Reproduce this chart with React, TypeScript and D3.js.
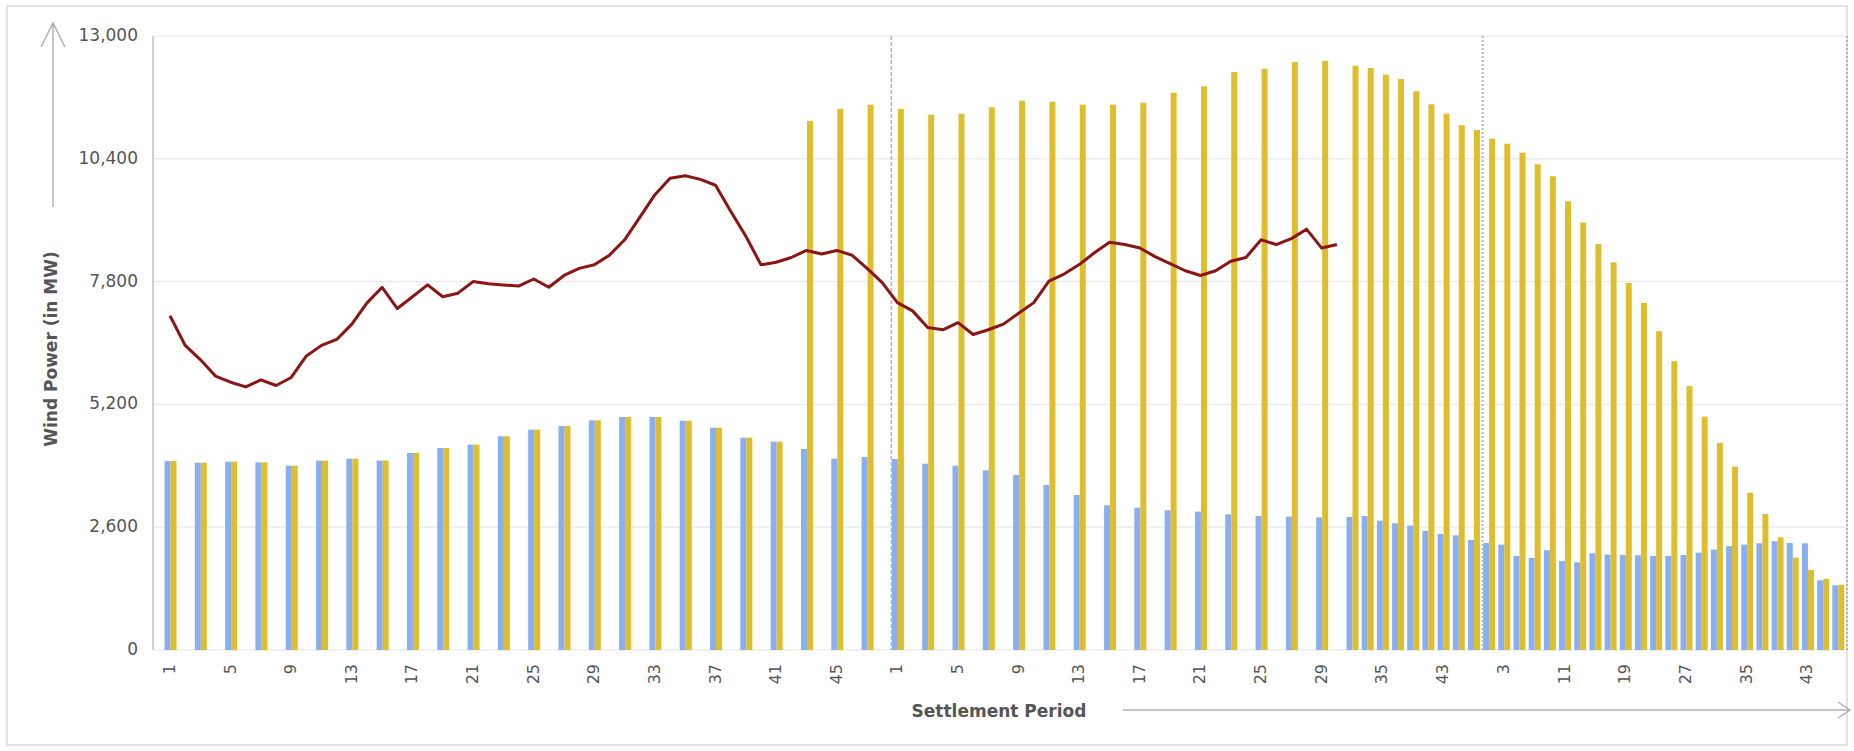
import React from "react";
import * as d3 from "d3";

// ---- data ----
const days = [1, 2, 3];
const dayPeriods = [1, 3, 5, 7, 9, 11, 13, 15, 17, 19, 21, 23, 25, 27, 29, 31, 33, 35, 37, 39, 41, 43, 45, 47];

// blue series (one value per category: every second settlement period)
const blueValues = [
  4000, 3966, 3987, 3973, 3902, 4008, 4050, 4012, 4171, 4277, 4348, 4525, 4665, 4743, 4863, 4933, 4933, 4855, 4707, 4495, 4410, 4256, 4050, 4086,
  4044, 3945, 3902, 3805, 3705, 3494, 3282, 3064, 3013, 2958, 2930, 2873, 2837, 2823, 2809, 2816, 2837, 2739, 2683, 2633, 2520, 2456, 2428, 2329,
  2266, 2231, 1992, 1950, 2113, 1884, 1857, 2049, 2020, 2011, 2005, 1992, 1992, 2011, 2062, 2126, 2197, 2231, 2260, 2303, 2266, 2260, 1475, 1370,
];

// yellow series
const yellowValues = [
  4000, 3966, 3987, 3973, 3902, 4008, 4050, 4012, 4171, 4277, 4348, 4525, 4665, 4743, 4863, 4933, 4933, 4855, 4707, 4495, 4410, 11200, 11455, 11546,
  11455, 11334, 11355, 11490, 11630, 11609, 11546, 11546, 11588, 11800, 11935, 12238, 12308, 12450, 12471, 12371, 12323, 12181, 12090, 11829, 11554, 11355, 11109, 11010,
  10826, 10720, 10531, 10284, 10030, 9500, 9050, 8595, 8209, 7770, 7347, 6750, 6114, 5587, 4940, 4386, 3882, 3324, 2880, 2386, 1956, 1694, 1503, 1383,
];

// red line, every settlement period (day 1: 1-48, day 2: 1-30)
const lineValues = [
  7078, 6450, 6150, 5800, 5670, 5570, 5720, 5600, 5770, 6225,
  6450, 6575, 6900, 7350, 7680, 7230, 7480, 7730, 7480, 7555,
  7800, 7755, 7730, 7705, 7855, 7680, 7930, 8080, 8155, 8360,
  8685, 9160, 9640, 9990, 10040, 9965, 9840, 9290, 8760, 8155,
  8210, 8310, 8460, 8385, 8460, 8360, 8080, 7780,
  7355, 7180, 6830, 6780, 6930, 6680, 6780, 6900, 7130, 7355,
  7810, 7960, 8160, 8410, 8635, 8585, 8510, 8330, 8180, 8030,
  7930, 8030, 8230, 8310, 8685, 8585, 8710, 8910, 8510, 8585,
];

const yTicks = [0, 2600, 5200, 7800, 10400, 13000];
const xTickIndex = [0, 2, 4, 6, 8, 10, 12, 14, 16, 18, 20, 22, 24, 26, 28, 30, 32, 34, 36, 38, 41, 45, 49, 53, 57, 61, 65, 69];
const dayStartIndex = [24, 48, 72];

const categories = days.flatMap((d) => dayPeriods.map((p) => ({ day: d, period: p })));

const FONT = "'DejaVu Sans', Verdana, sans-serif";

export default function App() {
  const W = 1854;
  const H = 751;
  const plotLeft = 153;
  const plotRight = 1847;

  // category index -> x (hourly bars are spaced wider until the half-hourly line data ends)
  const x = d3.scaleLinear().domain([0, 39, categories.length]).range([164, 1346, 1847]);
  const y = d3.scaleLinear().domain([0, 13000]).range([650, 36]);
  const barW = 6;
  const fmt = d3.format(",");

  const linePath = d3
    .line<number>()
    .x((_, i) => x(i / 2) + barW)
    .y((d) => y(d))(lineValues);

  return (
    <svg width={W} height={H} style={{ position: "absolute", left: 0, top: 0, background: "#fff" }} fontFamily={FONT}>
      <rect x={7} y={6} width={1840} height={739} fill="#fff" stroke="#e3e3e3" strokeWidth={2} />

      {/* gridlines */}
      {yTicks.map((t) => (
        <line key={"g" + t} x1={plotLeft} x2={plotRight} y1={y(t)} y2={y(t)} stroke="#ececec" strokeWidth={1.5} />
      ))}
      {/* y axis line */}
      <line x1={plotLeft} x2={plotLeft} y1={y(13000)} y2={y(0)} stroke="#d0d0d0" strokeWidth={2} />

      {/* y tick labels */}
      {yTicks.map((t) => (
        <text key={"yl" + t} x={138} y={y(t)} textAnchor="end" dominantBaseline="middle" fontSize={17} fill="#555">
          {fmt(t)}
        </text>
      ))}

      {/* bars */}
      {categories.map((c, i) => (
        <g key={"b" + i}>
          <rect x={x(i) + 0.5} y={y(blueValues[i])} width={barW} height={y(0) - y(blueValues[i])} fill="#8aaff0" />
          <rect x={x(i) + 0.5 + barW} y={y(yellowValues[i])} width={barW} height={y(0) - y(yellowValues[i])} fill="#dfbe2e" />
        </g>
      ))}

      {/* day separators */}
      {dayStartIndex.map((d, j) => (
        <line
          key={"d" + d}
          x1={x(d)}
          x2={x(d)}
          y1={y(13000)}
          y2={y(0)}
          stroke="#b5b5b5"
          strokeWidth={j === 0 ? 1.5 : 2}
          strokeDasharray={j === 0 ? "4,2" : "2,2"}
        />
      ))}

      {/* line */}
      <path d={linePath || ""} fill="none" stroke="#8b1414" strokeWidth={3} strokeLinejoin="round" />

      {/* x tick labels */}
      {xTickIndex.map((i) => (
        <text
          key={"xl" + i}
          transform={`translate(${x(i) + barW + 0.5},664) rotate(-90)`}
          textAnchor="end"
          dominantBaseline="middle"
          fontSize={16}
          fill="#555"
        >
          {categories[i].period}
        </text>
      ))}

      {/* x axis title and arrow */}
      <text x={999} y={712} textAnchor="middle" dominantBaseline="middle" fontSize={17} fontWeight="bold" fill="#555">
        Settlement Period
      </text>
      <line x1={1123} x2={1850} y1={710} y2={710} stroke="#b0b0b0" strokeWidth={1.5} />
      <polyline points="1838,702 1850,710 1838,718" fill="none" stroke="#b0b0b0" strokeWidth={1.5} />

      {/* y axis title and arrow */}
      <text
        transform="translate(52,349) rotate(-90)"
        textAnchor="middle"
        dominantBaseline="middle"
        fontSize={17}
        fontWeight="bold"
        fill="#555"
      >
        Wind Power (in MW)
      </text>
      <line x1={53} x2={53} y1={23} y2={207} stroke="#b0b0b0" strokeWidth={1.5} />
      <polyline points="41,47 53,23 65,47" fill="none" stroke="#b0b0b0" strokeWidth={1.5} />
    </svg>
  );
}
